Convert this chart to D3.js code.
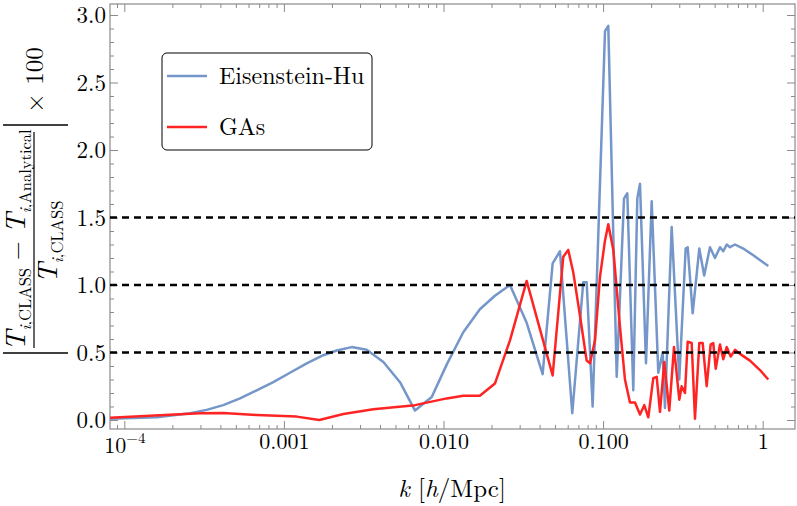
<!DOCTYPE html>
<html><head><meta charset="utf-8">
<script src="https://cdn.jsdelivr.net/npm/d3@7"></script>
<style>
html,body{margin:0;padding:0;background:#fff;}
svg{display:block;}
</style></head>
<body>
<svg id="c" width="797" height="506"></svg>
<script>
// ---- data ----
const kEH = [8.14e-5,1.60e-4,2.58e-4,3.28e-4,4.17e-4,5.31e-4,6.75e-4,8.58e-4,1.092e-3,1.39e-3,1.766e-3,2.14e-3,2.66e-3,3.30e-3,4.20e-3,5.34e-3,6.63e-3,8.44e-3,1.047e-2,1.33e-2,1.69e-2,2.10e-2,2.61e-2,3.32e-2,4.18e-2,4.83e-2,5.37e-2,6.41e-2,7.51e-2,7.89e-2,8.60e-2,0.1028,0.1078,0.1217,0.1352,0.1418,0.1546,0.1638,0.1703,0.1857,0.2016,0.2218,0.2363,0.2442,0.2690,0.3002,0.3292,0.3389,0.3642,0.4007,0.4300,0.4675,0.5025,0.5401,0.5665,0.5950,0.6240,0.6705,0.7557,0.8731,1.084];
const vEH = [0.01,0.02,0.05,0.075,0.11,0.16,0.22,0.28,0.35,0.42,0.48,0.515,0.54,0.52,0.43,0.28,0.07,0.17,0.41,0.65,0.82,0.92,1.0,0.72,0.34,1.16,1.25,0.05,1.02,1.02,0.10,2.88,2.92,0.32,1.64,1.68,0.22,1.64,1.75,0.42,1.62,0.35,0.50,0.09,1.43,0.30,1.27,1.28,0.79,1.27,1.07,1.28,1.20,1.28,1.25,1.30,1.28,1.30,1.27,1.22,1.14];
const kGA = [8.14e-5,2.98e-4,4.17e-4,6.75e-4,1.203e-3,1.667e-3,2.36e-3,3.63e-3,6.63e-3,1.047e-2,1.33e-2,1.69e-2,2.10e-2,2.61e-2,3.32e-2,4.83e-2,5.63e-2,6.05e-2,6.51e-2,7.17e-2,7.89e-2,8.28e-2,8.90e-2,9.56e-2,0.1028,0.1078,0.1159,0.1276,0.1371,0.1474,0.1585,0.1703,0.1812,0.1920,0.2063,0.2167,0.2273,0.2418,0.2598,0.2781,0.3002,0.3108,0.3260,0.3389,0.3590,0.3765,0.4007,0.4208,0.4458,0.4723,0.4904,0.5076,0.5401,0.5665,0.5950,0.6303,0.6705,0.7206,0.8325,0.9618,1.084];
const vGA = [0.017,0.05,0.052,0.037,0.025,0.0,0.044,0.079,0.11,0.16,0.18,0.18,0.27,0.59,1.03,0.33,1.21,1.26,1.09,0.77,0.44,0.42,0.59,1.06,1.33,1.45,1.26,0.69,0.30,0.13,0.13,0.04,0.11,0.02,0.31,0.32,0.06,0.43,0.07,0.54,0.15,0.25,0.20,0.58,0.57,0.01,0.57,0.57,0.25,0.56,0.57,0.38,0.56,0.45,0.54,0.47,0.52,0.49,0.44,0.37,0.30];
const seriesNames = ["Eisenstein-Hu","GAs"];
const seriesColors = ["#7596c9","#ff2424"];
const refLines = [0.5,1.0,1.5];
const xMajorTicks = [1e-4,1e-3,1e-2,1e-1,1];
const xTickLabels = ["10^-4","0.001","0.010","0.100","1"];
const yMajorTicks = [0,0.5,1.0,1.5,2.0,2.5,3.0];
const yTickLabels = ["0.0","0.5","1.0","1.5","2.0","2.5","3.0"];

// ---- layout ----
const FONT='"Latin Modern Roman","Liberation Serif",serif';
const L=110,R=795,T=4,B=429;
const svg=d3.select("#c");
const x=d3.scaleLog().domain([8.135e-5,1.594]).range([L,R]);
const y=d3.scaleLinear().domain([-0.0667,3.0815]).range([B,T]);
const frameCol="#8a8a8a";

const xMinor=[];
for(let d=-5; d<=0; d++) for(let m=2;m<=9;m++){const v=m*Math.pow(10,d); if(v>x.domain()[0]&&v<x.domain()[1]) xMinor.push(v);}
const yMinor=d3.range(0,31).map(i=>i/10).filter(v=>Math.abs(v*2-Math.round(v*2))>1e-6);

function styleAxis(g){g.select(".domain").remove(); g.selectAll(".tick line").attr("stroke",frameCol).attr("stroke-width",1);}

// bottom
svg.append("g").attr("transform",`translate(0,${B})`).call(d3.axisBottom(x).tickValues(xMinor).tickSize(-4).tickFormat("")).call(styleAxis);
const bx=svg.append("g").attr("transform",`translate(0,${B})`).call(d3.axisBottom(x).tickValues(xMajorTicks).tickSize(-8).tickFormat((d,i)=>xTickLabels[i])).call(styleAxis);
bx.selectAll(".tick text").attr("y",20).attr("dy",0).style("font-family",FONT).style("font-size","22px").attr("fill","#000");
bx.selectAll(".tick text").each(function(d,i){
  const s=xTickLabels[i];
  if(s.indexOf("^")>=0){
    const [b,e]=s.split("^");
    const t=d3.select(this).text(null).attr("y",24);
    t.append("tspan").text(b);
    t.append("tspan").attr("dy",-10).style("font-size","15px").text(e.replace("-","\u2212"));
  }
});
// top
svg.append("g").attr("transform",`translate(0,${T})`).call(d3.axisTop(x).tickValues(xMinor).tickSize(-4).tickFormat("")).call(styleAxis);
svg.append("g").attr("transform",`translate(0,${T})`).call(d3.axisTop(x).tickValues(xMajorTicks).tickSize(-8).tickFormat("")).call(styleAxis);
// left
svg.append("g").attr("transform",`translate(${L},0)`).call(d3.axisLeft(y).tickValues(yMinor).tickSize(-4).tickFormat("")).call(styleAxis);
const ly=svg.append("g").attr("transform",`translate(${L},0)`).call(d3.axisLeft(y).tickValues(yMajorTicks).tickSize(-8).tickFormat((d,i)=>yTickLabels[i])).call(styleAxis);
ly.selectAll(".tick text").attr("x",-4).attr("dy","0.33em").style("font-family",FONT).style("font-size","23px").attr("fill","#000");
// right
svg.append("g").attr("transform",`translate(${R},0)`).call(d3.axisRight(y).tickValues(yMinor).tickSize(-4).tickFormat("")).call(styleAxis);
svg.append("g").attr("transform",`translate(${R},0)`).call(d3.axisRight(y).tickValues(yMajorTicks).tickSize(-8).tickFormat("")).call(styleAxis);

// frame
svg.append("rect").attr("x",L).attr("y",T).attr("width",R-L).attr("height",B-T).attr("fill","none").attr("stroke",frameCol).attr("stroke-width",1.2);

// clip
svg.append("clipPath").attr("id","clip").append("rect").attr("x",L).attr("y",T).attr("width",R-L).attr("height",B-T);
const plot=svg.append("g").attr("clip-path","url(#clip)");

const line=d3.line().x(d=>x(d[0])).y(d=>y(d[1]));
const dataEH=kEH.map((k,i)=>[k,vEH[i]]);
const dataGA=kGA.map((k,i)=>[k,vGA[i]]);
plot.append("path").datum(dataEH).attr("d",line).attr("fill","none").attr("stroke",seriesColors[0]).attr("stroke-width",2.5).attr("stroke-linejoin","round");
plot.append("path").datum(dataGA).attr("d",line).attr("fill","none").attr("stroke",seriesColors[1]).attr("stroke-width",2.5).attr("stroke-linejoin","round");

// dashed reference lines
plot.selectAll("line.ref").data(refLines).enter().append("line").attr("class","ref")
  .attr("x1",L).attr("x2",R).attr("y1",d=>y(d)).attr("y2",d=>y(d))
  .attr("stroke","#000").attr("stroke-width",2.6).attr("stroke-dasharray","7,5");

// legend
const lg=svg.append("g");
lg.append("rect").attr("x",162).attr("y",53).attr("width",210).attr("height",97).attr("rx",5).attr("fill","#fff").attr("stroke","#000").attr("stroke-width",1);
const legY=[76,127];
seriesNames.forEach((n,i)=>{
  lg.append("line").attr("x1",167).attr("x2",207).attr("y1",legY[i]).attr("y2",legY[i]).attr("stroke",seriesColors[i]).attr("stroke-width",2.5);
  lg.append("text").attr("x",219).attr("y",legY[i]+8).style("font-family",FONT).style("font-size","24px").attr("fill","#000").text(n);
});

// x axis title
const xt=svg.append("text").attr("x",452).attr("y",497).attr("text-anchor","middle").style("font-family",FONT).style("font-size","25px");
xt.append("tspan").style("font-style","italic").text("k");
xt.append("tspan").text(" [");
xt.append("tspan").style("font-style","italic").text("h");
xt.append("tspan").text("/Mpc]");

// y axis title (rotated)
const yt=svg.append("g").attr("transform","translate(34,240) rotate(-90)");
yt.append("line").attr("x1",-108).attr("x2",108).attr("y1",0).attr("y2",0).attr("stroke","#000").attr("stroke-width",1.2);
function bigT(parent){ parent.append("tspan").style("font-style","italic").style("font-size","28px").text("T"); }
function sub(parent,txt){
  const s=parent.append("tspan").style("font-size","16.5px").attr("dy",6);
  s.append("tspan").style("font-style","italic").text("i");
  s.append("tspan").text(","+txt);
}
const num=yt.append("text").attr("x",0).attr("y",-9).attr("text-anchor","middle").style("font-family",FONT).style("font-size","24px");
bigT(num);
sub(num,"CLASS");
num.append("tspan").attr("dy",-6).text(" \u2212 ");
bigT(num);
sub(num,"Analytical");
const den=yt.append("text").attr("x",-2).attr("y",23).attr("text-anchor","middle").style("font-family",FONT).style("font-size","24px");
bigT(den);
sub(den,"CLASS");
// absolute value bars
[-113,115].forEach(u=>yt.append("line").attr("x1",u).attr("x2",u).attr("y1",-31).attr("y2",34).attr("stroke","#000").attr("stroke-width",1.5));
yt.append("text").attr("x",160).attr("y",9).attr("text-anchor","middle").style("font-family",FONT).style("font-size","25px").text("\u00d7 100");
</script>
</body></html>
